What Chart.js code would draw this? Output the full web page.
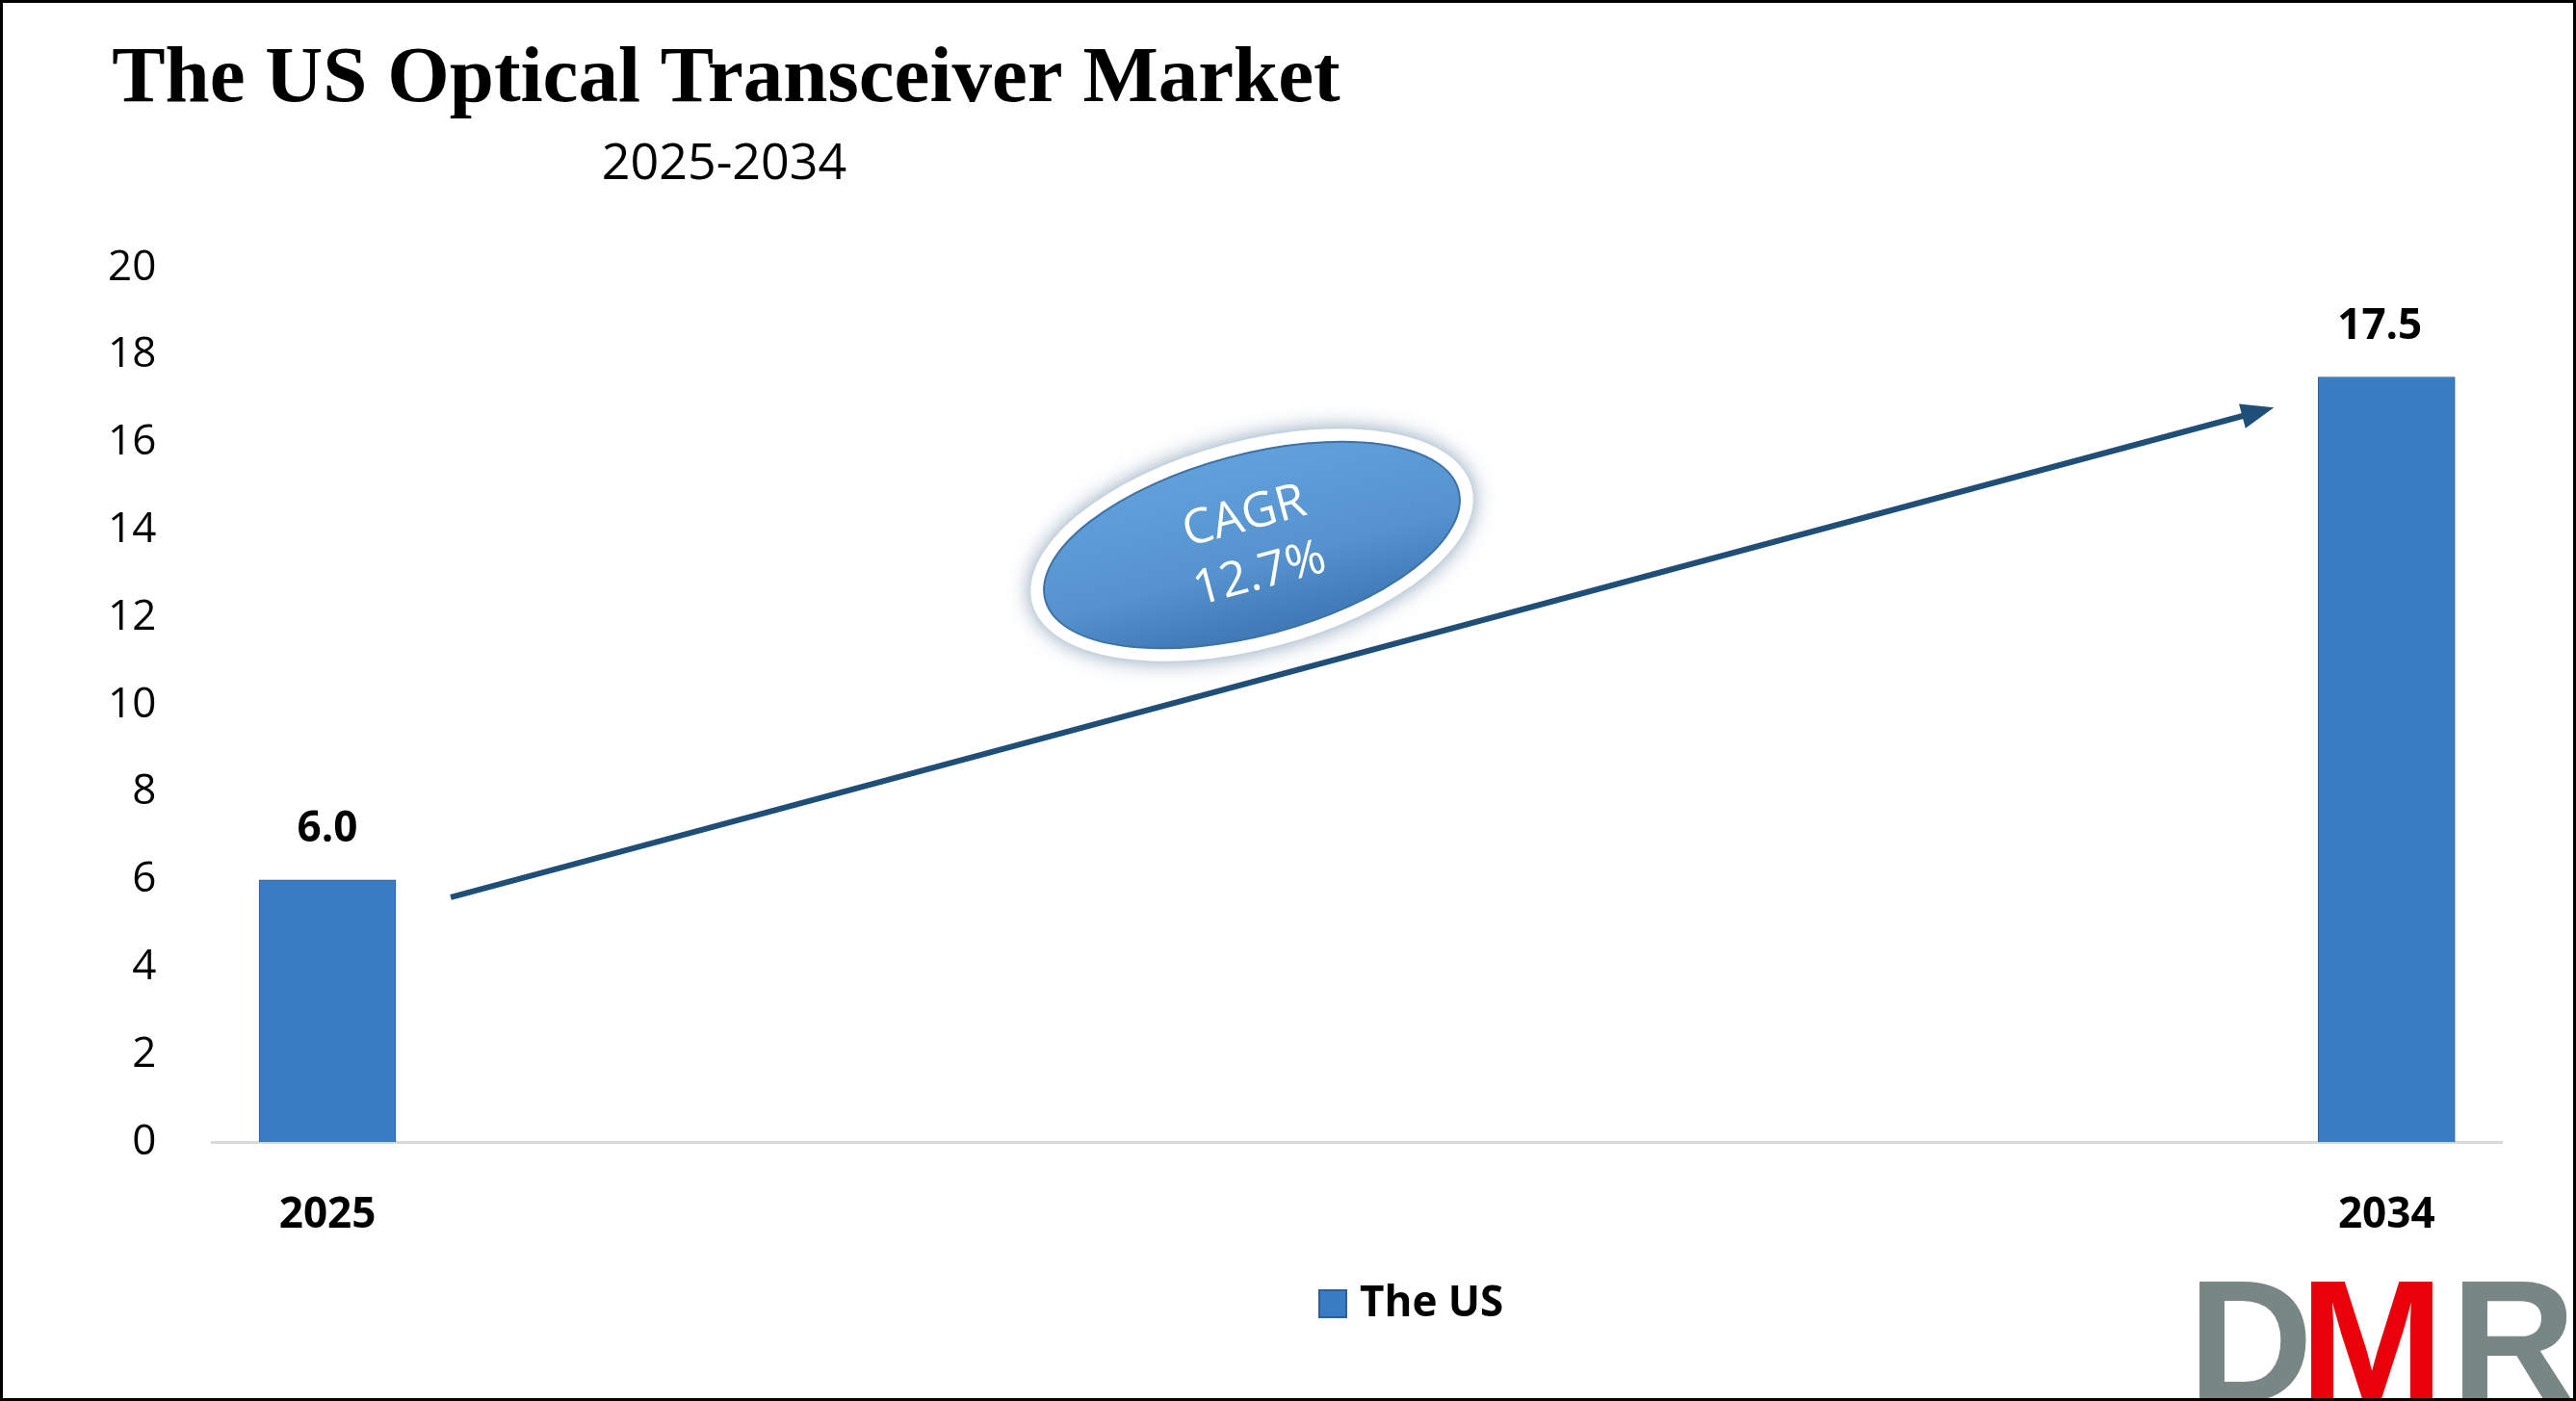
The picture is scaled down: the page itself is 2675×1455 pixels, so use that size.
<!DOCTYPE html>
<html><head><meta charset="utf-8">
<script src="https://cdn.jsdelivr.net/npm/chart.js@4.4.1/dist/chart.umd.min.js"></script>
<style>html,body{margin:0;padding:0;background:#fff}canvas{display:block}</style>
</head><body>
<canvas id="c" width="2675" height="1455"></canvas>
<script>
const categories = ["2025", "2034"];
const seriesName = "The US";
const values = [6.0, 17.5];
const yTicks = [0, 2, 4, 6, 8, 10, 12, 14, 16, 18, 20];
const titleText = "The US Optical Transceiver Market";
const subtitleText = "2025-2034";
const cagrLines = ["CAGR", "12.7%"];

const overlay = {
  id: 'overlay',
  afterDraw(chart) {
    const ctx = chart.ctx, xs = chart.scales.x, ys = chart.scales.y;
    ctx.save();
    ctx.fillStyle = '#000';
    ctx.textAlign = 'center'; ctx.textBaseline = 'middle';
    ctx.font = 'bold 83px "Liberation Serif", "DejaVu Serif", serif';
    ctx.fillText(titleText, 754, 84);
    ctx.font = '52px "Open Sans", "Noto Sans", sans-serif';
    ctx.fillText(subtitleText, 752, 171);
    ctx.font = 'bold 44px "Open Sans", "Noto Sans", sans-serif';
    values.forEach((v, i) => {
      ctx.fillText(v.toFixed(1), xs.getPixelForValue(i) - (i ? 7 : 0), ys.getPixelForValue(v) - 52);
    });
    const x1 = xs.getPixelForValue(0) + 128, y1 = ys.getPixelForValue(5.6);
    const x2 = xs.getPixelForValue(1) - 117, y2 = ys.getPixelForValue(16.8);
    ctx.strokeStyle = '#1f4e79'; ctx.lineWidth = 6;
    const ang = Math.atan2(y2 - y1, x2 - x1);
    ctx.beginPath(); ctx.moveTo(x1, y1); ctx.lineTo(x2 - 22 * Math.cos(ang), y2 - 22 * Math.sin(ang)); ctx.stroke();
    ctx.fillStyle = '#1f4e79';
    ctx.beginPath();
    ctx.moveTo(x2, y2);
    ctx.lineTo(x2 - 34 * Math.cos(ang) + 13 * Math.sin(ang), y2 - 34 * Math.sin(ang) - 13 * Math.cos(ang));
    ctx.lineTo(x2 - 34 * Math.cos(ang) - 13 * Math.sin(ang), y2 - 34 * Math.sin(ang) + 13 * Math.cos(ang));
    ctx.closePath(); ctx.fill();
    ctx.save();
    ctx.translate(1300, 566); ctx.rotate(-0.26);
    ctx.shadowColor = 'rgba(31,78,121,0.55)'; ctx.shadowBlur = 22;
    ctx.fillStyle = '#fff';
    ctx.beginPath(); ctx.ellipse(0, 0, 236, 108, 0, 0, Math.PI * 2); ctx.fill();
    ctx.shadowBlur = 0;
    const g = ctx.createLinearGradient(0, -95, 0, 95);
    g.addColorStop(0, '#62a0db'); g.addColorStop(0.6, '#5592ce'); g.addColorStop(1, '#3f78b4');
    ctx.fillStyle = g;
    ctx.beginPath(); ctx.ellipse(0, 0, 222, 94, 0, 0, Math.PI * 2); ctx.fill();
    ctx.strokeStyle = '#3d72a8'; ctx.lineWidth = 2; ctx.stroke();
    ctx.fillStyle = '#fff';
    ctx.font = '50px "Open Sans", "Noto Sans", sans-serif';
    ctx.fillText(cagrLines[0], 0, -30);
    ctx.fillText(cagrLines[1], 0, 32);
    ctx.restore();
    ctx.fillStyle = '#3a7cc4';
    ctx.fillRect(1370, 1340, 28, 28);
    ctx.strokeStyle = '#2a5f99'; ctx.lineWidth = 2; ctx.strokeRect(1370, 1340, 28, 28);
    ctx.fillStyle = '#000'; ctx.textAlign = 'left';
    ctx.font = 'bold 44px "Open Sans", "Noto Sans", sans-serif';
    ctx.fillText(seriesName, 1412, 1354);
    ctx.textAlign = 'left'; ctx.textBaseline = 'alphabetic';
    ctx.font = 'bold 180px "Liberation Sans", "DejaVu Sans", sans-serif';
    ctx.fillStyle = '#798784'; ctx.fillText('D', 2272, 1455);
    ctx.fillStyle = '#e8000a'; ctx.fillText('M', 2388, 1455);
    ctx.fillStyle = '#798784'; ctx.fillText('R', 2545, 1455);
    ctx.strokeStyle = '#000'; ctx.lineWidth = 3;
    ctx.strokeRect(1.5, 1.5, 2672, 1452);
    ctx.restore();
  }
};

const ctx = document.getElementById('c').getContext('2d');
new Chart(ctx, {
  type: 'bar',
  data: {
    datasets: [{
      label: seriesName,
      data: values.map((v, i) => ({ x: i, y: v })),
      backgroundColor: (c) => {
        const e = c.element; if (!c.chart.chartArea || !e || e.x === undefined) return '#3a7cc4';
        const g = c.chart.ctx.createLinearGradient(e.x - 71, 0, e.x + 71, 0);
        g.addColorStop(0, '#2c64a3'); g.addColorStop(0.12, '#3a7cc4');
        g.addColorStop(0.88, '#3a7cc4'); g.addColorStop(1, '#2c64a3');
        return g;
      },
      borderColor: '#2a5f99', borderWidth: 1,
      barThickness: 142
    }]
  },
  options: {
    responsive: false, animation: false,
    layout: { padding: { top: 278, left: 62, right: 77, bottom: 124 } },
    plugins: { legend: { display: false }, tooltip: { enabled: false } },
    scales: {
      x: {
        type: 'linear', min: -0.056, max: 1.056, offset: false,
        afterBuildTicks: (s) => { s.ticks = [{ value: 0 }, { value: 1 }]; },
        ticks: { callback: (v) => categories[v] ?? '', color: '#000', padding: 42,
          font: { size: 44, weight: 'bold', family: '"Open Sans", "Noto Sans", sans-serif' } },
        grid: { display: false, offset: false },
        border: { color: '#d9d9d9', width: 3 }
      },
      y: {
        min: 0, max: 20,
        afterBuildTicks: (s) => { s.ticks = yTicks.map(v => ({ value: v })); },
        ticks: { color: '#000', padding: 50,
          font: { size: 44, family: '"Open Sans", "Noto Sans", sans-serif' } },
        grid: { display: false },
        border: { display: false }
      }
    }
  },
  plugins: [overlay]
});
</script>
</body></html>
